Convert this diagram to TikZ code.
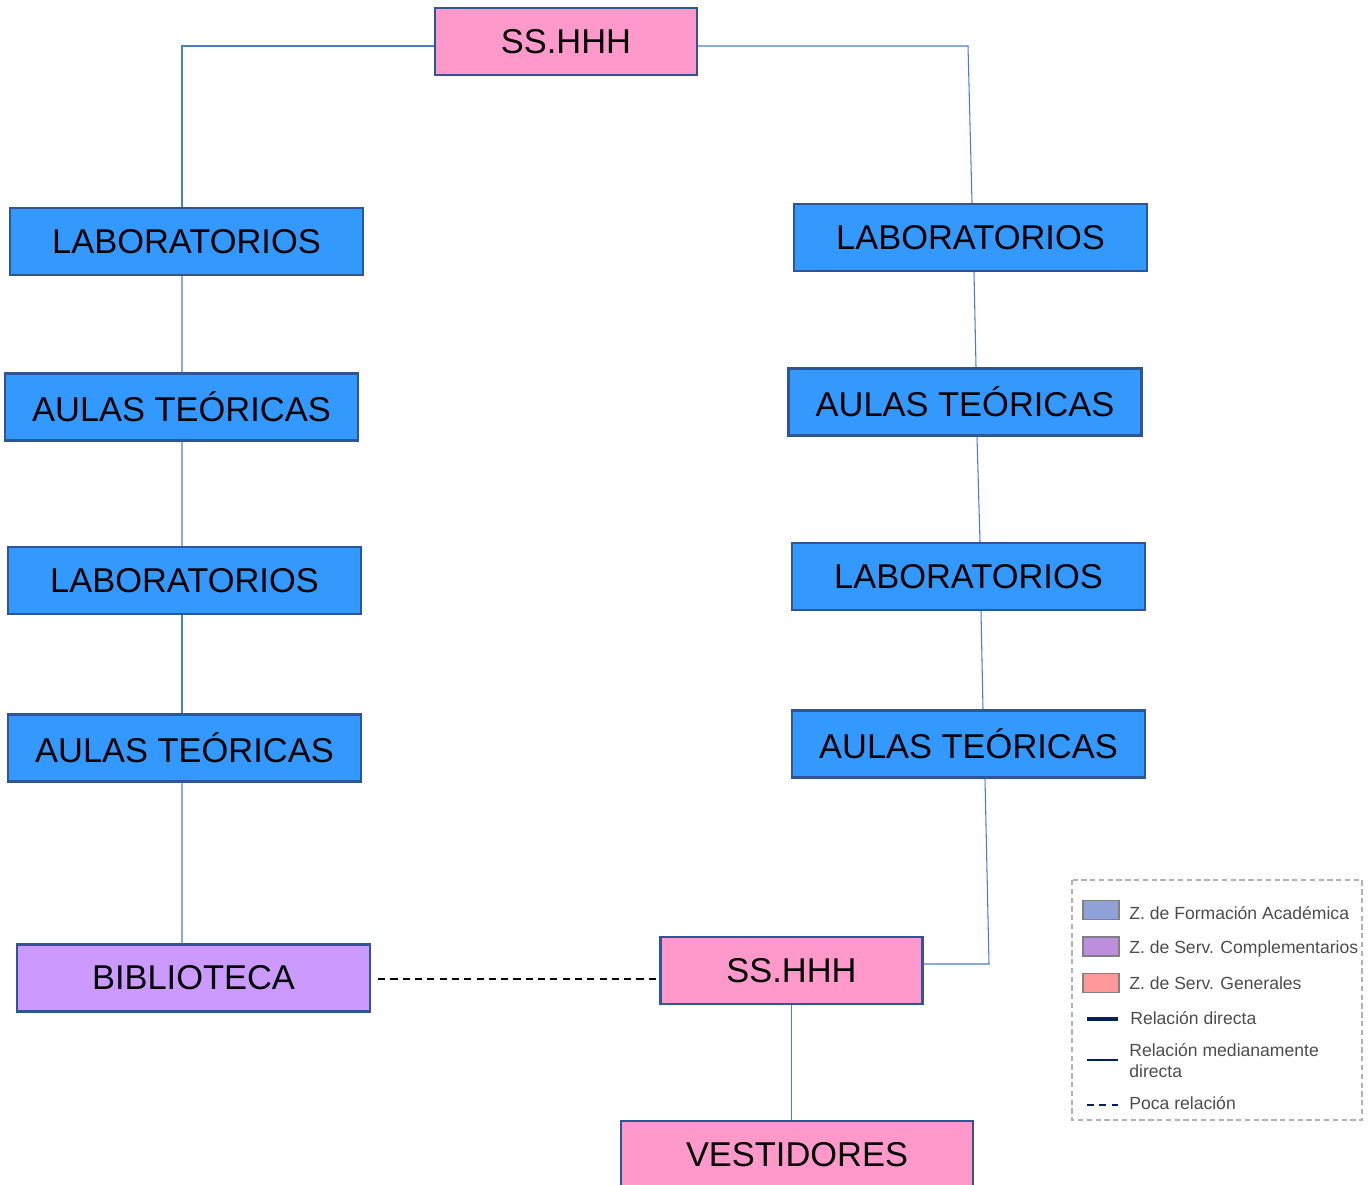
\documentclass[tikz,border=0pt]{standalone}
\usepackage{fontspec}
\setmainfont{Liberation Sans}
\usepackage{tikz}
\definecolor{azulzona}{HTML}{3399FF}
\definecolor{rosazona}{HTML}{FF99CC}
\definecolor{lilazona}{HTML}{CC99FF}
\definecolor{borde}{HTML}{2F5597}
\definecolor{linea}{HTML}{4A7BD0}
\definecolor{marino}{HTML}{002060}
\tikzset{
  zona/.style      = {shape=rectangle, draw=borde, line width=1.4pt,
                      minimum height=1.34cm, inner sep=0pt,
                      font=\fontsize{19.6}{23}\selectfont},
  aula/.style      = {zona, fill=azulzona, minimum width=7.06cm},
  sshh/.style      = {zona, fill=rosazona, minimum width=5.24cm},
  vest/.style      = {zona, fill=rosazona, minimum width=7.04cm},
  biblio/.style    = {zona, fill=lilazona, minimum width=7.06cm},
  rel/.style       = {draw=linea, line width=0.6pt},
  poca/.style      = {draw=black, line width=0.8pt, dash pattern=on 4pt off 3pt},
  muestra/.style   = {draw=gray, line width=1pt, minimum width=0.72cm,
                      minimum height=0.38cm, inner sep=0pt},
  leyenda/.style   = {anchor=west, inner sep=0pt, align=left,
                      font=\fontsize{10}{12}\selectfont, text=black!70}
}
\begin{document}
\begin{tikzpicture}[x=0.02cm, y=-0.02cm]
  \useasboundingbox (0,0) rectangle (1369,1185);

  % servicios higienicos
  \node[sshh] (ss1) at (566,41.5) {SS.HHH};
  \node[sshh] (ss2) at (791.5,970.5) {SS.HHH};
  \node[vest] (vest) at (797,1154.5) {VESTIDORES};

  % columna izquierda
  \node[aula] (l1) at (186.5,241.5) {LABORATORIOS};
  \node[aula] (l2) at (181.5,407) {AULAS TEÓRICAS};
  \node[aula] (l3) at (184.5,580.5) {LABORATORIOS};
  \node[aula] (l4) at (184.5,748) {AULAS TEÓRICAS};
  \node[biblio] (bib) at (193.5,978) {BIBLIOTECA};

  % columna derecha
  \node[aula] (r1) at (970.5,237.5) {LABORATORIOS};
  \node[aula] (r2) at (965,402) {AULAS TEÓRICAS};
  \node[aula] (r3) at (968.5,576.5) {LABORATORIOS};
  \node[aula] (r4) at (968.5,744) {AULAS TEÓRICAS};

  \coordinate (esqa) at (968,46);
  \coordinate (esqb) at (989,964);

  % relaciones
  \draw[rel] ([yshift=-0.09cm]ss1.west) -| ([xshift=-0.09cm]l1.north);
  \draw[rel] ([xshift=-0.09cm]l1.south) -- ([xshift=0.01cm]l2.north);
  \draw[rel] ([xshift=0.01cm]l2.south) -- ([xshift=-0.05cm]l3.north);
  \draw[rel] ([xshift=-0.05cm]l3.south) -- ([xshift=-0.05cm]l4.north);
  \draw[rel] ([xshift=-0.05cm]l4.south) -- ([xshift=-0.23cm]bib.north);

  \draw[rel] ([yshift=-0.09cm]ss1.east) -- (esqa) -- ([xshift=0.03cm]r1.north);
  \draw[rel] ([xshift=0.07cm]r1.south) -- ([xshift=0.22cm]r2.north);
  \draw[rel] ([xshift=0.24cm]r2.south) -- ([xshift=0.23cm]r3.north);
  \draw[rel] ([xshift=0.25cm]r3.south) -- ([xshift=0.29cm]r4.north);
  \draw[rel] ([xshift=0.33cm]r4.south) -- (esqb) -- ([yshift=0.13cm]ss2.east);

  \draw[rel] (ss2.south) -- (ss2.south |- vest.north);
  \draw[poca] ([xshift=0.14cm,yshift=-0.02cm]bib.east) -- ([yshift=-0.02cm]ss2.west |- bib.east);

  % leyenda
  \draw[gray!60, line width=0.8pt, dash pattern=on 3pt off 2pt] (1072,880) rectangle (1362,1120);
  \node[muestra, fill={rgb,255:red,142;green,162;blue,216}] (m1) at (1101,910) {};
  \node[muestra, fill={rgb,255:red,187;green,143;blue,222}] (m2) at (1101,946.5) {};
  \node[muestra, fill={rgb,255:red,255;green,153;blue,153}] (m3) at (1101,983) {};
  \coordinate (d1a) at (1087,1019);
  \coordinate (d1b) at (1118,1019);
  \coordinate (d2a) at (1087,1060);
  \coordinate (d2b) at (1118,1060);
  \coordinate (d3a) at (1087,1105);
  \coordinate (d3b) at (1118,1105);
  \draw[marino, line width=2.4pt] (d1a) -- (d1b);
  \draw[marino, line width=1.4pt] (d2a) -- (d2b);
  \draw[marino, line width=1.2pt, dash pattern=on 4pt off 3pt] (d3a) -- (d3b);
  \node[leyenda] (t1) at (1129,913) {Z. de Formación Académica};
  \node[leyenda] (t2) at (1129,949) {Z. de Serv. Complementarios};
  \node[leyenda] (t3) at (1129,983) {Z. de Serv. Generales};
  \node[leyenda] (t4) at (1130,1018) {Relación directa};
  \node[leyenda] (t5) at (1129,1061) {Relación medianamente\\directa};
  \node[leyenda] (t6) at (1129,1103) {Poca relación};
\end{tikzpicture}
\end{document}
